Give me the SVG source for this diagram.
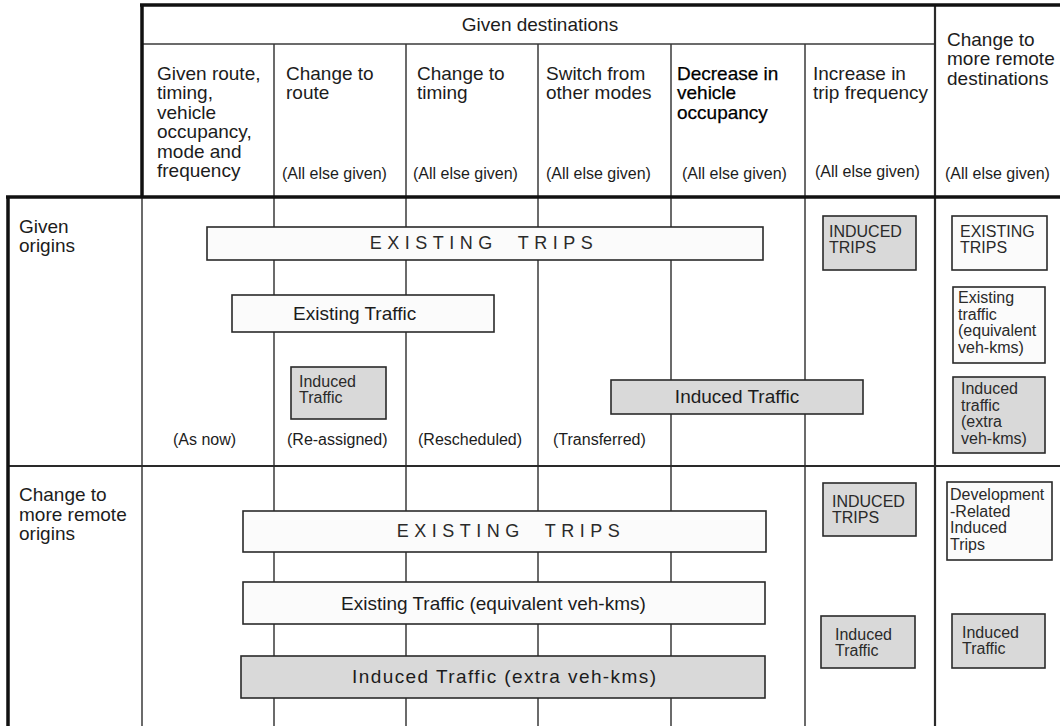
<svg xmlns="http://www.w3.org/2000/svg" width="1060" height="726" viewBox="0 0 1060 726">
<style>
  text { font-family: "Liberation Sans", Arial, sans-serif; fill: #1c1c1c; }
  .h { font-size: 19px; }
  .s { font-size: 16px; }
  .b { font-size: 16px; fill: #2a2a2a; }
  .emph { fill: #000; stroke: #000; stroke-width: 0.25; }
  .caps { font-size: 18px; letter-spacing: 5.5px; word-spacing: 10px; fill: #2a2a2a; }
  .thin { stroke: #3a3a3a; stroke-width: 1.5; fill: none; }
  .mid { stroke: #2a2a2a; stroke-width: 2.2; fill: none; }
  .thick { stroke: #111; stroke-width: 3.5; fill: none; }
  .ex { fill: #fbfbfb; stroke: #2a2a2a; stroke-width: 1.6; }
  .in { fill: #d9d9d9; stroke: #2a2a2a; stroke-width: 1.6; }
</style>
<rect width="1060" height="726" fill="#ffffff"/>

<g id="grid">
  <line class="thin" x1="142" y1="44" x2="935" y2="44"/>
  <line class="thin" x1="274" y1="44" x2="274" y2="726"/>
  <line class="thin" x1="406" y1="44" x2="406" y2="726"/>
  <line class="thin" x1="538" y1="44" x2="538" y2="726"/>
  <line class="thin" x1="671" y1="44" x2="671" y2="726"/>
  <line class="thin" x1="805" y1="44" x2="805" y2="726"/>
  <line class="mid" x1="935" y1="5" x2="935" y2="726"/>
  <line class="thin" x1="142" y1="197" x2="142" y2="726"/>
  <line class="mid" x1="8" y1="466" x2="1060" y2="466"/>
  <line class="thick" x1="140" y1="5" x2="1060" y2="5"/>
  <line class="thick" x1="142" y1="4" x2="142" y2="198"/>
  <line class="thick" x1="6" y1="197" x2="1060" y2="197"/>
  <line class="thick" x1="8" y1="196" x2="8" y2="726"/>
</g>

<g id="header">
  <text class="h" x="540" y="31" text-anchor="middle">Given destinations</text>
  <text class="h" x="157" y="80">Given route,</text>
  <text class="h" x="157" y="99.4">timing,</text>
  <text class="h" x="157" y="118.8">vehicle</text>
  <text class="h" x="157" y="138.2">occupancy,</text>
  <text class="h" x="157" y="157.6">mode and</text>
  <text class="h" x="157" y="177">frequency</text>

  <text class="h" x="286" y="80">Change to</text>
  <text class="h" x="286" y="99.4">route</text>
  <text class="s" x="282" y="179">(All else given)</text>

  <text class="h" x="417" y="80">Change to</text>
  <text class="h" x="417" y="99.4">timing</text>
  <text class="s" x="413" y="179">(All else given)</text>

  <text class="h" x="546" y="80">Switch from</text>
  <text class="h" x="546" y="99.4">other modes</text>
  <text class="s" x="546" y="179">(All else given)</text>

  <text class="h emph" x="677" y="80">Decrease in</text>
  <text class="h emph" x="677" y="99.4">vehicle</text>
  <text class="h emph" x="677" y="118.8">occupancy</text>
  <text class="s" x="682" y="179">(All else given)</text>

  <text class="h" x="813" y="80">Increase in</text>
  <text class="h" x="813" y="99.4">trip frequency</text>
  <text class="s" x="815" y="177">(All else given)</text>

  <text class="h" x="947" y="45.5">Change to</text>
  <text class="h" x="947" y="65">more remote</text>
  <text class="h" x="947" y="84.5">destinations</text>
  <text class="s" x="945" y="179">(All else given)</text>
</g>

<g id="row-given-origins">
  <text class="h" x="19" y="233">Given</text>
  <text class="h" x="19" y="252">origins</text>
  <text class="s" x="173" y="445">(As now)</text>
  <text class="s" x="287" y="445">(Re-assigned)</text>
  <text class="s" x="418" y="445">(Rescheduled)</text>
  <text class="s" x="553" y="445">(Transferred)</text>
</g>

<g id="row-remote-origins">
  <text class="h" x="19" y="501">Change to</text>
  <text class="h" x="19" y="520.5">more remote</text>
  <text class="h" x="19" y="540">origins</text>
</g>

<g id="existing-trips-1">
  <rect class="ex" x="207" y="227" width="556" height="33"/>
  <text class="caps" x="484" y="249" text-anchor="middle">EXISTING TRIPS</text>
</g>
<g id="existing-traffic-1">
  <rect class="ex" x="232" y="295" width="262" height="37"/>
  <text class="h" x="293" y="320">Existing Traffic</text>
</g>
<g id="induced-traffic-route">
  <rect class="in" x="291" y="367" width="95" height="52"/>
  <text class="b" x="299" y="387">Induced</text>
  <text class="b" x="299" y="403">Traffic</text>
</g>
<g id="induced-traffic-1">
  <rect class="in" x="611" y="380" width="252" height="34"/>
  <text class="h" x="737" y="403" text-anchor="middle">Induced Traffic</text>
</g>
<g id="induced-trips-1">
  <rect class="in" x="823" y="216" width="93" height="54"/>
  <text class="b" x="829" y="237">INDUCED</text>
  <text class="b" x="829" y="253">TRIPS</text>
</g>
<g id="existing-trips-remote-dest">
  <rect class="ex" x="952" y="216" width="95" height="54"/>
  <text class="b" x="960" y="237">EXISTING</text>
  <text class="b" x="960" y="253">TRIPS</text>
</g>
<g id="existing-traffic-remote-dest">
  <rect class="ex" x="953" y="287" width="92" height="76"/>
  <text class="b" x="958" y="303">Existing</text>
  <text class="b" x="958" y="319.5">traffic</text>
  <text class="b" x="958" y="336">(equivalent</text>
  <text class="b" x="958" y="352.5">veh-kms)</text>
</g>
<g id="induced-traffic-remote-dest">
  <rect class="in" x="953" y="377" width="92" height="76"/>
  <text class="b" x="961" y="394">Induced</text>
  <text class="b" x="961" y="410.5">traffic</text>
  <text class="b" x="961" y="427">(extra</text>
  <text class="b" x="961" y="443.5">veh-kms)</text>
</g>

<g id="existing-trips-2">
  <rect class="ex" x="243" y="511" width="523" height="41"/>
  <text class="caps" x="511" y="537" text-anchor="middle">EXISTING TRIPS</text>
</g>
<g id="existing-traffic-2">
  <rect class="ex" x="243" y="582" width="522" height="42"/>
  <text class="h" x="341" y="610">Existing Traffic (equivalent veh-kms)</text>
</g>
<g id="induced-traffic-2">
  <rect class="in" x="241" y="656" width="524" height="42"/>
  <text class="h" x="352" y="683" textLength="304" lengthAdjust="spacing">Induced Traffic (extra veh-kms)</text>
</g>
<g id="induced-trips-2">
  <rect class="in" x="823" y="483" width="93" height="53"/>
  <text class="b" x="832" y="507">INDUCED</text>
  <text class="b" x="832" y="523">TRIPS</text>
</g>
<g id="development-trips">
  <rect class="ex" x="947" y="482" width="105" height="78"/>
  <text class="b" x="950" y="500">Development</text>
  <text class="b" x="950" y="516.5">-Related</text>
  <text class="b" x="950" y="533">Induced</text>
  <text class="b" x="950" y="549.5">Trips</text>
</g>
<g id="induced-traffic-freq-2">
  <rect class="in" x="821" y="616" width="94" height="52"/>
  <text class="b" x="835" y="640">Induced</text>
  <text class="b" x="835" y="656">Traffic</text>
</g>
<g id="induced-traffic-dest-2">
  <rect class="in" x="952" y="614" width="93" height="54"/>
  <text class="b" x="962" y="638">Induced</text>
  <text class="b" x="962" y="654">Traffic</text>
</g>
</svg>
